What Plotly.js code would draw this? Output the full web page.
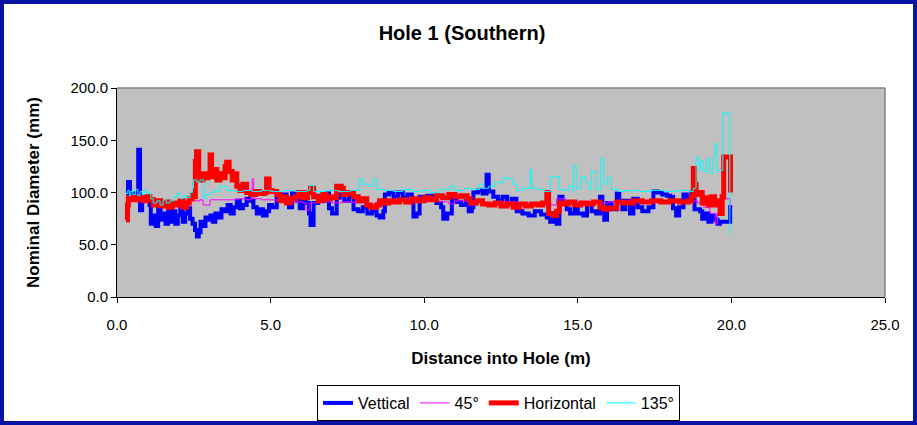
<!DOCTYPE html>
<html>
<head>
<meta charset="utf-8">
<script src="https://cdn.plot.ly/plotly-3.0.1.min.js"></script>
<style>html,body{margin:0;padding:0;background:#fff;}#chart{width:917px;height:425px;}</style>
</head>
<body>
<div id="chart"></div>
<script>
// Vettical (blue)
const vertX = [0.30,0.36,0.42,0.50,0.58,0.66,0.69,0.75,0.82,0.90,0.98,1.06,1.10,1.18,1.26,1.34,1.42,1.50,1.58,1.66,1.74,1.82,1.90,1.98,2.06,2.14,2.22,2.30,2.38,2.46,2.54,2.60,2.66,2.72,2.80,2.88,2.96,3.04,3.12,3.20,3.30,3.40,3.50,3.60,3.70,3.80,3.90,4.00,4.10,4.22,4.30,4.44,4.55,4.65,4.75,4.87,4.95,5.05,5.20,5.30,5.40,5.52,5.60,5.70,5.85,5.95,6.05,6.15,6.25,6.30,6.40,6.55,6.70,6.80,6.90,7.00,7.15,7.25,7.40,7.55,7.70,7.85,8.00,8.15,8.30,8.45,8.55,8.67,8.72,8.85,9.00,9.15,9.30,9.45,9.60,9.65,9.75,9.85,9.97,10.10,10.25,10.40,10.55,10.62,10.75,10.90,11.05,11.20,11.35,11.45,11.55,11.60,11.75,11.90,12.03,12.10,12.25,12.40,12.55,12.70,12.85,13.00,13.01,13.20,13.40,13.60,13.80,13.99,14.10,14.20,14.31,14.40,14.50,14.64,14.75,14.90,15.00,15.18,15.30,15.45,15.60,15.72,15.80,15.86,15.95,16.10,16.27,16.35,16.45,16.55,16.70,16.81,16.95,17.10,17.30,17.46,17.60,17.75,17.90,18.00,18.10,18.20,18.30,18.44,18.55,18.70,18.76,18.80,18.98,19.05,19.15,19.25,19.35,19.45,19.55,19.63,19.95,19.96];
const vertY = [99,110,96,99,94,97,141,83,95,92,96,88,70,78,68,85,74,80,70,84,72,82,70,78,84,72,80,85,75,70,64,58,62,72,68,76,74,78,72,80,76,84,82,88,80,86,92,85,88,94,92,86,80,84,78,82,88,86,96,92,98,90,86,99,92,85,95,90,80,69,90,97,92,99,85,80,95,98,92,96,84,82,86,80,82,78,76,82,98,100,96,100,95,98,92,77,80,96,93,97,94,90,86,75,80,94,91,88,92,82,86,100,102,99,117,101,96,92,96,90,94,88,82,80,78,82,79,76,72,78,70,96,90,84,80,86,80,78,90,82,80,96,82,74,90,84,99,92,84,92,80,94,86,82,86,101,100,98,97,96,85,78,86,98,94,100,96,84,82,75,80,72,78,74,70,72,72,88];

// 45 degrees (magenta)
const d45X = [0.29,0.35,0.37,0.50,0.70,0.90,1.07,1.18,1.40,1.51,1.60,1.70,1.94,2.10,2.27,2.50,2.70,2.80,3.03,3.30,3.60,3.90,4.20,4.35,4.40,4.45,4.70,5.00,5.20,5.50,5.90,6.05,6.15,6.28,6.50,7.00,7.30,7.70,8.10,8.45,9.00,9.50,10.00,10.50,10.80,11.00,11.50,12.00,12.50,13.00,13.50,14.00,14.31,14.60,15.00,15.50,16.00,16.50,17.00,17.50,18.00,18.50,18.90,19.10,19.30,19.47,19.55,19.63,19.95,19.96];
const d45Y = [72,90,94,93,94,93,92,90,89,86,84,88,88,89,92,92,93,88,93,93,93,94,93,94,113,94,93,93,92,91,91,90,83,90,91,90,91,90,89,91,92,93,92,91,89,92,91,90,91,90,89,88,94,90,91,90,91,92,91,92,91,92,90,86,80,70,80,94,94,85];

// Horizontal (red)
const horX = [0.29,0.34,0.37,0.45,0.55,0.65,0.75,0.85,0.95,1.07,1.18,1.30,1.42,1.55,1.68,1.80,1.94,2.05,2.15,2.27,2.35,2.45,2.50,2.55,2.59,2.66,2.72,2.80,2.88,2.96,3.03,3.08,3.16,3.25,3.35,3.45,3.52,3.57,3.65,3.75,3.85,3.90,4.00,4.10,4.22,4.35,4.50,4.65,4.80,4.87,4.95,5.05,5.20,5.30,5.45,5.52,5.65,5.80,5.90,6.05,6.20,6.30,6.40,6.55,6.70,6.80,6.95,7.10,7.15,7.30,7.37,7.50,7.70,7.85,8.00,8.13,8.25,8.35,8.45,8.55,8.70,8.85,9.00,9.20,9.40,9.60,9.80,10.00,10.20,10.40,10.60,10.80,11.00,11.20,11.40,11.50,11.70,11.90,12.10,12.30,12.50,12.70,12.90,13.10,13.30,13.50,13.70,13.85,13.99,14.05,14.20,14.31,14.40,14.55,14.70,14.90,15.10,15.30,15.50,15.72,15.85,16.00,16.27,16.50,16.80,17.10,17.40,17.70,18.00,18.30,18.60,18.70,18.76,18.80,18.85,18.95,19.05,19.15,19.25,19.35,19.45,19.55,19.63,19.70,19.75,19.95,19.97];
const horY = [74,88,95,93,96,93,95,92,96,93,88,92,87,91,86,90,88,92,86,90,94,98,96,130,139,116,112,118,114,116,136,115,122,112,118,114,125,129,120,112,118,106,102,108,100,98,101,99,100,113,102,101,98,92,96,90,94,96,100,95,100,104,96,92,98,94,96,95,106,104,98,100,96,92,94,88,86,86,88,92,90,92,91,93,91,94,92,95,93,97,95,98,96,97,94,90,92,89,88,90,87,89,86,89,87,89,88,90,100,80,78,82,90,89,91,88,90,89,91,86,84,85,91,90,92,91,92,91,92,91,92,96,123,108,98,100,90,95,88,96,88,92,80,96,134,134,100];

// 135 degrees (cyan)
const d135X = [0.29,0.35,0.40,0.45,0.52,0.60,0.68,0.75,0.82,0.90,1.00,1.07,1.10,1.18,1.30,1.40,1.50,1.60,1.72,1.85,1.94,2.05,2.15,2.27,2.38,2.45,2.49,2.60,2.70,2.83,2.90,3.03,3.15,3.30,3.35,3.50,3.57,3.80,4.10,4.40,4.70,5.00,5.40,5.80,6.20,6.28,6.40,6.80,7.20,7.60,7.90,8.00,8.20,8.33,8.45,8.70,9.00,9.30,9.60,9.90,10.20,10.50,10.85,11.00,11.30,11.50,11.80,11.90,12.10,12.30,12.47,12.55,12.70,12.90,13.01,13.20,13.45,13.50,13.70,13.90,14.10,14.31,14.40,14.55,14.70,14.85,14.86,14.95,15.10,15.25,15.35,15.45,15.60,15.75,15.85,15.95,16.10,16.30,16.60,17.00,17.40,17.80,18.20,18.60,18.76,18.85,18.95,19.00,19.10,19.20,19.30,19.40,19.47,19.52,19.68,19.72,19.92,19.95];
const d135Y = [99,102,97,101,98,103,97,101,98,102,99,100,94,90,92,88,93,90,92,96,99,94,97,95,100,104,112,110,112,94,98,100,102,101,106,106,102,101,102,101,102,101,102,101,102,107,101,102,101,102,113,108,106,113,103,102,101,103,101,102,100,103,106,102,104,103,108,104,106,110,109,114,113,108,102,104,122,104,103,101,115,115,103,102,106,101,126,104,115,110,103,120,103,132,108,114,103,101,102,101,102,101,102,101,104,134,122,130,120,132,118,134,147,121,121,176,176,59];

const xTicks = [0,5,10,15,20,25];
const yTicks = [0,50,100,150,200];

const ff = 'Liberation Sans, Arial, sans-serif';
const L = 117, R = 32, T = 88, B = 128, W = 917, H = 425;
const pw = W - L - R, ph = H - T - B;
const px = v => (v - L) / pw;
const py = v => (H - B - v) / ph;

const traces = [
  {x: vertX, y: vertY, name: 'Vettical', mode: 'lines', line: {color: '#0000FF', width: 4, shape: 'hv'}},
  {x: d45X, y: d45Y, name: '45°', mode: 'lines', line: {color: '#FF00FF', width: 1, shape: 'hv'}},
  {x: horX, y: horY, name: 'Horizontal', mode: 'lines', line: {color: '#FF0000', width: 5, shape: 'hv'}},
  {x: d135X, y: d135Y, name: '135°', mode: 'lines', line: {color: '#00FFFF', width: 1, shape: 'hv'}}
];

const layout = {
  width: W, height: H,
  margin: {l: L, r: R, t: T, b: B, pad: 0, autoexpand: false},
  paper_bgcolor: '#FFFFFF',
  plot_bgcolor: '#C0C0C0',
  font: {family: ff, color: '#000', size: 15},
  title: {text: '<b>Hole 1 (Southern)</b>', font: {family: ff, size: 20, color: '#000'}, x: 462/W, xanchor: 'center', y: 1 - 33/H, yanchor: 'middle'},
  xaxis: {
    range: [0, 25], tickvals: xTicks, ticktext: xTicks.map(v => v.toFixed(1)),
    showgrid: false, zeroline: false, showline: true, linecolor: '#000', linewidth: 1,
    ticks: 'outside', ticklen: 5, tickcolor: '#000', tickfont: {size: 15, family: ff},
    ticklabelstandoff: 9,
    title: {text: '<b>Distance into Hole (m)</b>', font: {size: 17, family: ff}, standoff: 20}
  },
  yaxis: {
    range: [0, 200], tickvals: yTicks, ticktext: yTicks.map(v => v.toFixed(1)),
    showgrid: false, zeroline: false, showline: true, linecolor: '#000', linewidth: 1,
    ticks: 'outside', ticklen: 5, tickcolor: '#000', tickfont: {size: 15, family: ff},
    title: {text: '<b>Nominal Diameter (mm)</b>', font: {size: 17, family: ff}, standoff: 26}
  },
  showlegend: true,
  legend: {
    orientation: 'h', x: px(498.5), xanchor: 'center', y: py(421), yanchor: 'bottom',
    bgcolor: '#FFFFFF', bordercolor: '#000', borderwidth: 1,
    font: {size: 16, family: ff}, itemwidth: 30, tracegroupgap: 0
  },
  shapes: [
    {type: 'line', xref: 'paper', yref: 'paper', x0: 0, x1: 1, y0: 1, y1: 1, line: {color: '#808080', width: 1.5}},
    {type: 'line', xref: 'paper', yref: 'paper', x0: 1, x1: 1, y0: 0, y1: 1, line: {color: '#808080', width: 1.5}},
    {type: 'rect', xref: 'paper', yref: 'paper', x0: px(0), x1: px(W), y0: py(0), y1: py(H), line: {color: '#0B13A3', width: 8}, fillcolor: 'rgba(0,0,0,0)'}
  ]
};

Plotly.newPlot('chart', traces, layout, {displayModeBar: false, staticPlot: true});
</script>
</body>
</html>
